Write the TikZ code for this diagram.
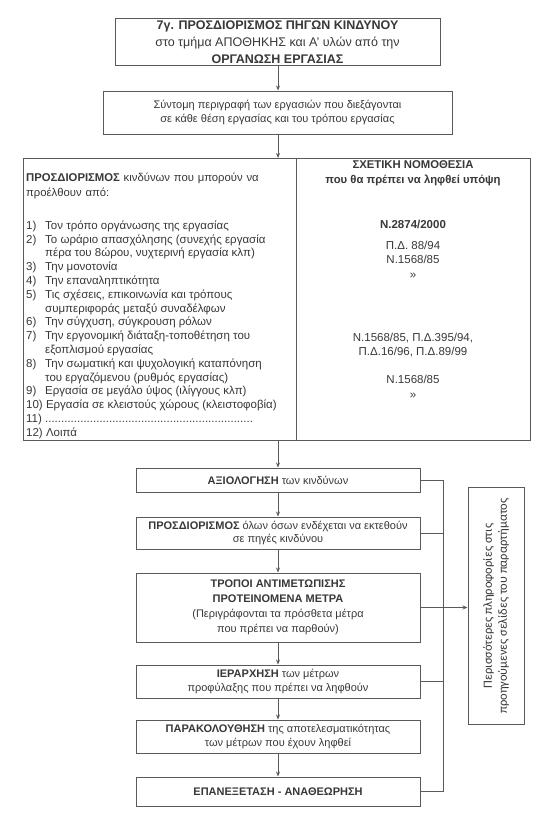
\documentclass[tikz,border=0pt]{standalone}
\usepackage{fontspec}
\setmainfont{Liberation Sans}
\newfontfamily\sidefont{Carlito}
\usetikzlibrary{arrows.meta}
\definecolor{ink}{gray}{0.22}
\definecolor{edge}{gray}{0.35}
\tikzset{
  box/.style={draw=edge, line width=1pt, fill=white, inner sep=0pt, align=center, text=ink,
    font=\fontsize{11}{13.5}\selectfont},
  txt/.style={inner sep=0pt, text=ink, font=\fontsize{11.5}{13.8}\selectfont},
  conn/.style={draw=edge, line width=0.9pt},
  arr/.style={conn, -{Stealth[length=5pt,width=4pt]}},
  lowbox/.style={box, minimum width=284pt},
}
\begin{document}
\begin{tikzpicture}[x=1pt,y=-1pt]
\useasboundingbox (0,0) rectangle (553,827);
% top boxes
\node[box, minimum width=325pt, minimum height=47pt, font=\fontsize{12.5}{16.8}\selectfont] (title) at (277.5,42)
  {\textbf{7γ. ΠΡΟΣΔΙΟΡΙΣΜΟΣ ΠΗΓΩΝ ΚΙΝΔΥΝΟΥ}\\στο τμήμα ΑΠΟΘΗΚΗΣ και Α' υλών από την\\\textbf{ΟΡΓΑΝΩΣΗ ΕΡΓΑΣΙΑΣ}};
\node[box, minimum width=349pt, minimum height=43pt] (desc) at (277.5,112.5)
  {Σύντομη περιγραφή των εργασιών που διεξάγονται\\σε κάθε θέση εργασίας και του τρόπου εργασίας};
% big two-column box
\node[box, anchor=north west, minimum width=273pt, minimum height=282pt] (hz) at (23,158) {};
\node[box, anchor=north west, minimum width=234pt, minimum height=282pt] (law) at (296,158) {};
\node[txt, anchor=west, text width=268pt, align=left, font=\fontsize{11.3}{15}\selectfont] (hzhead) at (26,186)
  {\textbf{ΠΡΟΣΔΙΟΡΙΣΜΟΣ} κινδύνων που μπορούν να\\προέλθουν από:};
\node[txt, anchor=west] (hzlist) at (26,330) {%
\begin{tabular}{@{}p{19pt}@{}p{250pt}@{}}
1) & Τον τρόπο οργάνωσης της εργασίας\\
2) & Το ωράριο απασχόλησης (συνεχής εργασία\newline πέρα του 8ώρου, νυχτερινή εργασία κλπ)\\
3) & Την μονοτονία\\
4) & Την επαναληπτικότητα\\
5) & Τις σχέσεις, επικοινωνία και τρόπους\newline συμπεριφοράς μεταξύ συναδέλφων\\
6) & Την σύγχυση, σύγκρουση ρόλων\\
7) & Την εργονομική διάταξη-τοποθέτηση του\newline εξοπλισμού εργασίας\\
8) & Την σωματική και ψυχολογική καταπόνηση\newline του εργαζόμενου (ρυθμός εργασίας)\\
9) & Εργασία σε μεγάλο ύψος (ιλίγγους κλπ)\\
\multicolumn{2}{@{}l@{}}{10) Εργασία σε κλειστούς χώρους (κλειστοφοβία)}\\
\multicolumn{2}{@{}l@{}}{11) \makebox[208pt]{\leaders\hbox{.}\hfill}}\\
\multicolumn{2}{@{}l@{}}{12) Λοιπά}
\end{tabular}};
\node[txt, align=center, font=\fontsize{11.3}{15}\selectfont] (lawhead) at (413,173.5)
  {\textbf{ΣΧΕΤΙΚΗ ΝΟΜΟΘΕΣΙΑ}\\\textbf{που θα πρέπει να ληφθεί υπόψη}};
\node[txt] (law1) at (413,224) {\textbf{Ν.2874/2000}};
\node[txt, align=center, font=\fontsize{11.5}{14.5}\selectfont] (law2) at (413,259.5) {Π.Δ. 88/94\\Ν.1568/85\\»};
\node[txt, align=center, font=\fontsize{11.5}{14.5}\selectfont] (law3) at (413,345) {Ν.1568/85, Π.Δ.395/94,\\Π.Δ.16/96, Π.Δ.89/99};
\node[txt, align=center, font=\fontsize{11.5}{14.5}\selectfont] (law4) at (413,387) {Ν.1568/85\\»};
% lower chain
\node[lowbox, minimum height=24pt] (b1) at (278,480) {\textbf{ΑΞΙΟΛΟΓΗΣΗ} των κινδύνων};
\node[lowbox, minimum height=32pt] (b2) at (278,533) {\textbf{ΠΡΟΣΔΙΟΡΙΣΜΟΣ} όλων όσων ενδέχεται να εκτεθούν\\σε πηγές κινδύνου};
\node[lowbox, minimum height=69pt, font=\fontsize{11}{15}\selectfont] (b3) at (278,607.5)
  {\textbf{ΤΡΟΠΟΙ ΑΝΤΙΜΕΤΩΠΙΣΗΣ}\\\textbf{ΠΡΟΤΕΙΝΟΜΕΝΑ ΜΕΤΡΑ}\\(Περιγράφονται τα πρόσθετα μέτρα\\που πρέπει να παρθούν)};
\node[lowbox, minimum height=33pt] (b4) at (278,681.5) {\textbf{ΙΕΡΑΡΧΗΣΗ} των μέτρων\\προφύλαξης που πρέπει να ληφθούν};
\node[lowbox, minimum height=33pt] (b5) at (278,736.5) {\textbf{ΠΑΡΑΚΟΛΟΥΘΗΣΗ} της αποτελεσματικότητας\\των μέτρων που έχουν ληφθεί};
\node[lowbox, minimum height=29pt] (b6) at (278,791.5) {\textbf{ΕΠΑΝΕΞΕΤΑΣΗ - ΑΝΑΘΕΩΡΗΣΗ}};
% side box
\node[box, rotate=90, minimum width=237pt, minimum height=56pt, font=\sidefont\fontsize{12.5}{15}\selectfont] (more) at (496,606)
  {Περισσότερες πληροφορίες στις\\προηγούμενες σελίδες του παραρτήματος};
% connectors
\coordinate (bus) at (443,480);
\draw[arr] (title.south -| 278,0) -- (desc.north -| 278,0);
\draw[arr] (desc.south -| 278,0) -- (hz.north -| 278,0);
\draw[arr] (hz.south -| b1.north) -- (b1.north);
\draw[arr] (b1.south) -- (b2.north);
\draw[arr] (b2.south) -- (b3.north);
\draw[arr] (b3.south) -- (b4.north);
\draw[arr] (b4.south) -- (b5.north);
\draw[arr] (b5.south) -- (b6.north);
\draw[conn] (b1.east) -- (b1.east -| bus) -- (b6.east -| bus) -- (b6.east);
\draw[conn] (b2.east) -- (b2.east -| bus);
\draw[conn] (b4.east) -- (b4.east -| bus);
\draw[arr] (b3.east) -- (b3.east -| more.north);
\end{tikzpicture}
\end{document}
